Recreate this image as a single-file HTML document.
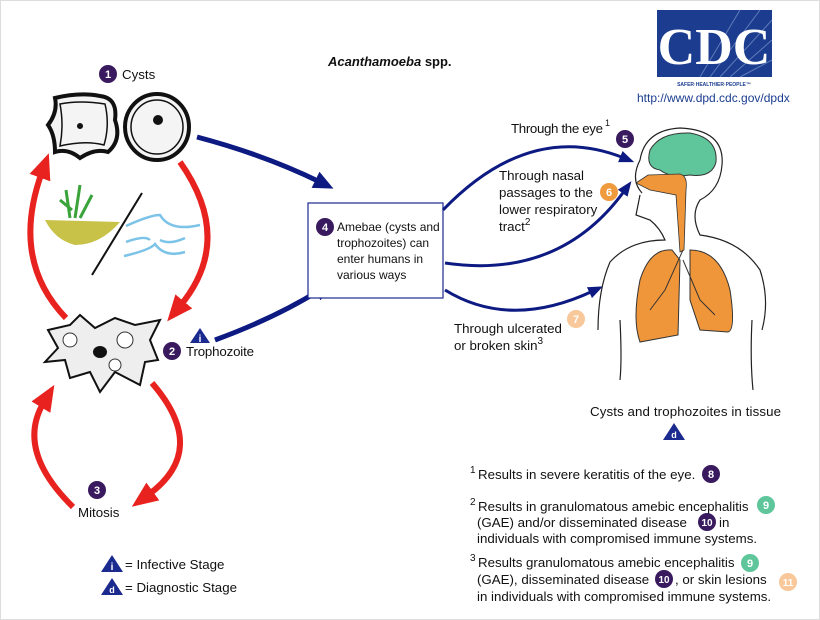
<!DOCTYPE html><html><head><style>body{margin:0;background:#fff}svg{display:block}text{font-family:"Liberation Sans",sans-serif;font-size:13.3px;fill:#111}</style></head><body>
<svg width="820" height="620" viewBox="0 0 820 620" xmlns="http://www.w3.org/2000/svg">
<defs>
<marker id="ar" markerWidth="28" markerHeight="28" refX="6" refY="14" orient="auto" markerUnits="userSpaceOnUse"><path d="M0,3L26,14L0,25z" fill="#e8231f"/></marker>
<marker id="ab" markerWidth="22" markerHeight="22" refX="5" refY="11" orient="auto" markerUnits="userSpaceOnUse"><path d="M0,2L20,11L0,20z" fill="#0d1a82"/></marker>
<marker id="ab2" markerWidth="16" markerHeight="16" refX="4" refY="8" orient="auto" markerUnits="userSpaceOnUse"><path d="M0,2L15,8L0,14z" fill="#0d1a82"/></marker>
</defs>
<rect x="0.5" y="0.5" width="819" height="619" fill="none" stroke="#ddd"/>
<text x="328" y="66" style="font-weight:bold;font-style:italic;font-size:13px">Acanthamoeba <tspan font-style="normal">spp.</tspan></text>
<rect x="657" y="10" width="115" height="67" fill="#1b3c8f"/>
<g stroke="#8fa6d6" stroke-width="1" opacity="0.6"><path d="M700,77L740,10M710,77L760,10M720,77L772,20M730,77L772,40M740,77L772,60"/></g>
<text x="714" y="64" text-anchor="middle" style="font-family:'Liberation Serif',serif;font-size:52px;font-weight:bold;fill:#fff">CDC</text>
<text x="714" y="86" text-anchor="middle" style="font-size:5px;fill:#1b3c8f;font-weight:bold">SAFER·HEALTHIER·PEOPLE™</text>
<text x="637" y="102" style="fill:#1b3c8f;font-size:12px">http://www.dpd.cdc.gov/dpdx</text>
<!-- cysts -->
<circle cx="108" cy="74" r="9" fill="#3a1a5e"/><text x="108" y="78" text-anchor="middle" style="fill:#fff;font-weight:bold;font-size:11px">1</text>
<text x="122" y="79">Cysts</text>
<path d="M55,98Q80,92 100,96Q118,98 115,120Q122,140 108,152Q95,148 80,158Q68,148 55,152Q55,135 48,125Q58,112 55,98z" fill="#f4f4f4" stroke="#111" stroke-width="4"/>
<path d="M60,104Q80,100 105,104Q110,125 104,145Q85,140 60,146Q64,125 60,104z" fill="none" stroke="#111" stroke-width="1.5"/>
<circle cx="80" cy="126" r="3" fill="#111"/>
<ellipse cx="157" cy="127" rx="32" ry="33" fill="#f4f4f4" stroke="#111" stroke-width="4"/>
<ellipse cx="157" cy="127" rx="26" ry="27" fill="none" stroke="#111" stroke-width="1.5"/>
<circle cx="158" cy="120" r="5" fill="#111"/>
<!-- environment -->
<path d="M45,220L120,222Q100,245 75,245Q55,240 45,220z" fill="#c8c248"/>
<path d="M70,218L66,190M75,218L80,185M80,218L92,195M72,210L60,200" stroke="#3aa33a" stroke-width="3" fill="none"/>
<line x1="142" y1="193" x2="92" y2="275" stroke="#111" stroke-width="2"/>
<path d="M126,226Q150,215 160,215Q170,232 200,225M126,242Q145,235 150,240M160,240Q170,245 185,238M124,256Q150,250 155,244Q165,258 185,252" stroke="#7cc3e8" stroke-width="2.5" fill="none"/>
<!-- red arcs -->
<path d="M66,318Q10,260 42,172" stroke="#e8231f" stroke-width="6" fill="none" marker-end="url(#ar)"/>
<path d="M180,162Q235,240 180,306" stroke="#e8231f" stroke-width="6" fill="none" marker-end="url(#ar)"/>
<path d="M73,507Q15,450 44,402" stroke="#e8231f" stroke-width="6" fill="none" marker-end="url(#ar)"/>
<path d="M152,383Q210,450 148,495" stroke="#e8231f" stroke-width="6" fill="none" marker-end="url(#ar)"/>
<!-- trophozoite -->
<path d="M48,330L70,325L80,315L95,328L115,318L135,325L160,320L150,340L158,360L145,362L140,385L115,372L100,392L90,372L70,378L65,360L45,362L58,348z" fill="#eee" stroke="#111" stroke-width="2"/>
<circle cx="70" cy="340" r="7" fill="#fff" stroke="#333"/><circle cx="125" cy="340" r="8" fill="#fff" stroke="#333"/><circle cx="115" cy="365" r="6" fill="#fff" stroke="#333"/>
<ellipse cx="100" cy="352" rx="7" ry="6" fill="#111"/>
<circle cx="172" cy="351" r="9" fill="#3a1a5e"/><text x="172" y="355" text-anchor="middle" style="fill:#fff;font-weight:bold;font-size:11px">2</text>
<text x="186" y="356" textLength="68">Trophozoite</text>
<path d="M200,328L210,343L190,343z" fill="#1b2a8f"/><text x="200" y="342" text-anchor="middle" style="fill:#fff;font-weight:bold;font-size:10px">i</text>
<circle cx="97" cy="490" r="9" fill="#3a1a5e"/><text x="97" y="494" text-anchor="middle" style="fill:#fff;font-weight:bold;font-size:11px">3</text>
<text x="78" y="517">Mitosis</text>
<!-- blue arrows to box -->
<path d="M197,137Q265,155 320,182" stroke="#0d1a82" stroke-width="5" fill="none" marker-end="url(#ab)"/>
<path d="M215,340Q275,318 320,290" stroke="#0d1a82" stroke-width="5" fill="none" marker-end="url(#ab)"/>
<rect x="308" y="203" width="135" height="95" fill="#fff" stroke="#1b2a8f" stroke-width="1.2"/>
<circle cx="325" cy="227" r="9" fill="#3a1a5e"/><text x="325" y="231" text-anchor="middle" style="fill:#fff;font-weight:bold;font-size:11px">4</text>
<text x="337" y="231" style="font-size:12px">Amebae (cysts and</text><text x="337" y="247" style="font-size:12px">trophozoites) can</text><text x="337" y="263" style="font-size:12px">enter humans in</text><text x="337" y="279" style="font-size:12px">various ways</text>
<!-- arrows to human -->
<path d="M443,210Q530,120 624,158" stroke="#0d1a82" stroke-width="3" fill="none" marker-end="url(#ab2)"/>
<path d="M445,263Q560,280 625,190" stroke="#0d1a82" stroke-width="3" fill="none" marker-end="url(#ab2)"/>
<path d="M445,290Q510,330 593,291" stroke="#0d1a82" stroke-width="3" fill="none" marker-end="url(#ab2)"/>
<text x="511" y="133" textLength="92">Through the eye</text><text x="605" y="126" style="font-size:9px">1</text>
<circle cx="625" cy="139" r="9" fill="#3a1a5e"/><text x="625" y="143" text-anchor="middle" style="fill:#fff;font-weight:bold;font-size:11px">5</text>
<text x="499" y="180">Through nasal</text><text x="499" y="197">passages to the</text><text x="499" y="214">lower respiratory</text><text x="499" y="231">tract<tspan dy="-6" font-size="10">2</tspan></text>
<circle cx="609" cy="192" r="9" fill="#f09a3e"/><text x="609" y="196" text-anchor="middle" style="fill:#fff;font-weight:bold;font-size:11px">6</text>
<text x="454" y="333">Through ulcerated</text><text x="454" y="350">or broken skin<tspan dy="-6" font-size="10">3</tspan></text>
<circle cx="576" cy="319" r="9" fill="#f8c89a"/><text x="576" y="323" text-anchor="middle" style="fill:#fff;font-weight:bold;font-size:11px">7</text>
<!-- human -->
<path d="M642,193Q630,180 640,160Q645,130 680,128Q725,130 722,165Q720,190 700,200Q690,215 700,235Q740,240 760,270Q770,300 762,330M640,195L636,215L650,220Q660,228 665,240Q630,240 610,262Q598,290 598,330M620,320Q622,360 620,380M752,320Q750,360 753,390" fill="none" stroke="#222" stroke-width="1.2"/>
<path d="M650,150Q660,132 690,133Q718,138 716,162Q712,178 690,175Q670,178 660,170Q645,168 650,150z" fill="#5ec69a" stroke="#333"/>
<path d="M636,183L648,175L680,174Q688,176 686,190L684,250L680,252L676,195L650,190z" fill="#f0963a" stroke="#333" stroke-width="0.8"/>
<path d="M672,250Q650,248 640,280Q632,320 640,342L678,335L680,260z" fill="#f0963a" stroke="#333"/>
<path d="M690,250Q720,250 730,290Q736,330 728,332L700,330L690,300z" fill="#f0963a" stroke="#333"/>
<path d="M683,250L665,290L650,310M683,260L700,300L715,315" stroke="#333" fill="none"/>
<text x="590" y="416" textLength="191">Cysts and trophozoites in tissue</text>
<path d="M674,423L685,440L663,440z" fill="#1b2a8f"/><text x="674" y="438" text-anchor="middle" style="fill:#fff;font-weight:bold;font-size:9px">d</text>
<!-- footnotes -->
<text x="470" y="473" style="font-size:10px">1</text><text x="478" y="479">Results in severe keratitis of the eye.</text>
<circle cx="711" cy="474" r="9" fill="#3a1a5e"/><text x="711" y="478" text-anchor="middle" style="fill:#fff;font-weight:bold;font-size:11px">8</text>
<text x="470" y="505" style="font-size:10px">2</text><text x="478" y="511">Results in granulomatous amebic encephalitis</text>
<circle cx="766" cy="505" r="9" fill="#5ec69a"/><text x="766" y="509" text-anchor="middle" style="fill:#fff;font-weight:bold;font-size:11px">9</text>
<text x="477" y="527">(GAE) and/or disseminated disease</text>
<circle cx="707" cy="522" r="9" fill="#3a1a5e"/><text x="707" y="526" text-anchor="middle" style="fill:#fff;font-weight:bold;font-size:10px">10</text>
<text x="719" y="527">in</text>
<text x="477" y="543">individuals with compromised immune systems.</text>
<text x="470" y="561" style="font-size:10px">3</text><text x="478" y="567">Results granulomatous amebic encephalitis</text>
<circle cx="750" cy="563" r="9" fill="#5ec69a"/><text x="750" y="567" text-anchor="middle" style="fill:#fff;font-weight:bold;font-size:11px">9</text>
<text x="477" y="584">(GAE), disseminated disease</text>
<circle cx="664" cy="579" r="9" fill="#3a1a5e"/><text x="664" y="583" text-anchor="middle" style="fill:#fff;font-weight:bold;font-size:10px">10</text>
<text x="675" y="584">, or skin lesions</text>
<circle cx="788" cy="582" r="9" fill="#f8c89a"/><text x="788" y="586" text-anchor="middle" style="fill:#fff;font-weight:bold;font-size:10px">11</text>
<text x="477" y="601">in individuals with compromised immune systems.</text>
<!-- legend -->
<path d="M112,555L123,572L101,572z" fill="#1b2a8f"/><text x="112" y="570" text-anchor="middle" style="fill:#fff;font-weight:bold;font-size:10px">i</text>
<text x="125" y="569">= Infective Stage</text>
<path d="M112,578L123,595L101,595z" fill="#1b2a8f"/><text x="112" y="593" text-anchor="middle" style="fill:#fff;font-weight:bold;font-size:9px">d</text>
<text x="125" y="592">= Diagnostic Stage</text>
</svg></body></html>
